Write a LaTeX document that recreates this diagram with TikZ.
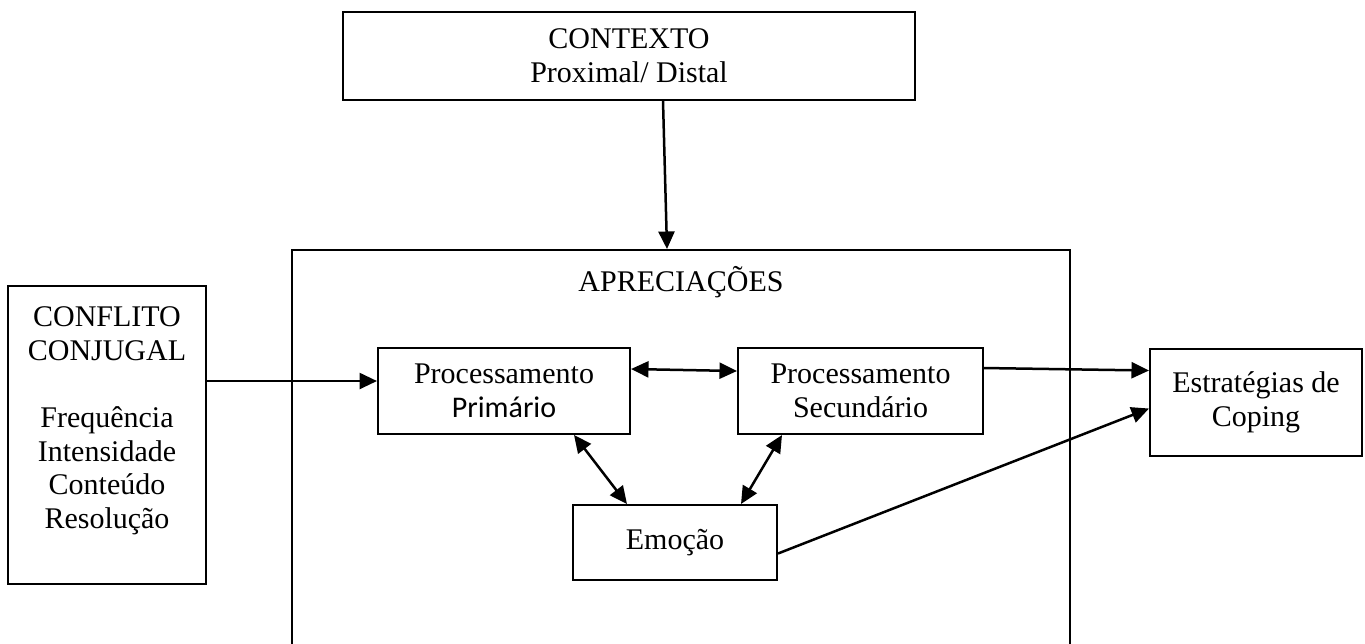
\documentclass[tikz,border=0pt]{standalone}
\usepackage{fontspec}
\setmainfont{Liberation Serif}
\newfontfamily\calibrifont{Carlito}
\usetikzlibrary{arrows.meta,calc}

\def\pxu{0.4pt}

\tikzset{
  box/.style={draw, line width=0.8pt, align=center, inner sep=0pt},
  link/.style={-{Triangle[length=7pt, width=6.4pt]}, line width=1pt},
  dlink/.style={{Triangle[length=7pt, width=6.4pt]}-{Triangle[length=7pt, width=6.4pt]}, line width=1pt}
}

\begin{document}
\begin{tikzpicture}[x=\pxu, y=-\pxu, font=\fontsize{12}{13.5}\selectfont]
  % Frame
  \useasboundingbox (0,0) rectangle (1365,643);
  \clip (0,0) rectangle (1365,643);

  % Boxes
  \node[box, minimum width=572*\pxu, minimum height=88*\pxu] (ctx) at (629,56) {CONTEXTO\\Proximal/ Distal};
  \node[box, minimum width=778*\pxu, minimum height=420*\pxu] (apr) at (681,460) {};
  \node (aprlabel) at (681,282) {APRECIAÇÕES};
  \node[box, minimum width=198*\pxu, minimum height=298*\pxu] (conf) at (107,435) {};
  \node[align=center] (conftext) at (107,421) {CONFLITO\\CONJUGAL\\[1.1em]Frequência\\Intensidade\\Conteúdo\\Resolução};
  \node[box, minimum width=252*\pxu, minimum height=86*\pxu] (pri) at (504,391) {Processamento\\{\calibrifont Primário}};
  \node[box, minimum width=245*\pxu, minimum height=86*\pxu] (sec) at (860.5,391) {Processamento\\Secundário};
  \node[box, minimum width=204*\pxu, minimum height=75*\pxu] (emo) at (675,542.5) {Emoção};
  \node[box, minimum width=212*\pxu, minimum height=107*\pxu] (est) at (1256,402.5) {Estratégias de\\Coping};

  % Arrows
  \draw[link] ($(ctx.south)+(34,0)$) -- ($(apr.north)+(-14,0)$);
  \draw[link] ($(conf.east)+(0,-54)$) -- ($(pri.west)+(0,-10)$);
  \draw[dlink] ($(pri.east)+(0,-22)$) -- ($(sec.west)+(0,-20)$);
  \draw[link] ($(sec.east)+(0,-23)$) -- ($(est.west)+(0,-32)$);
  \draw[dlink] ($(pri.south east)+(-57,0)$) -- ($(emo.north west)+(55,0)$);
  \draw[dlink] ($(sec.south west)+(45,0)$) -- ($(emo.north east)+(-37,0)$);
  \draw[link] ($(emo.east)+(0,11)$) -- ($(est.west)+(0,6)$);
\end{tikzpicture}
\end{document}
